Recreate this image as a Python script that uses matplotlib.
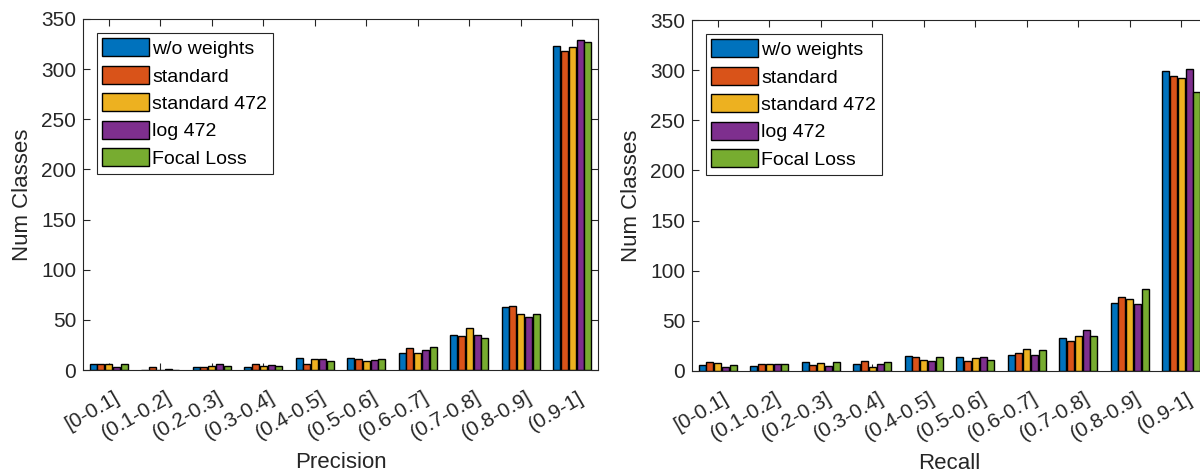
import numpy as np
import matplotlib
matplotlib.use('Agg')
import matplotlib.pyplot as plt
import matplotlib.transforms as mtransforms

plt.rcParams['font.family'] = ['Liberation Sans', 'DejaVu Sans']

bins = ['[0-0.1]', '(0.1-0.2]', '(0.2-0.3]', '(0.3-0.4]', '(0.4-0.5]',
        '(0.5-0.6]', '(0.6-0.7]', '(0.7-0.8]', '(0.8-0.9]', '(0.9-1]']
series = ['w/o weights', 'standard', 'standard 472', 'log 472', 'Focal Loss']
colors = ['#0072BD', '#D95319', '#EDB120', '#7E2F8E', '#77AC30']

# precision histogram
prec_wo = [6, 0, 3, 3, 12, 12, 17, 35, 63, 323]
prec_std = [6, 3, 3, 6, 6, 11, 22, 34, 64, 318]
prec_std472 = [6, 0, 4, 4, 11, 9, 17, 42, 56, 322]
prec_log472 = [3, 1, 6, 5, 11, 10, 20, 35, 53, 329]
prec_focal = [6, 0, 4, 4, 9, 11, 23, 32, 56, 327]

# recall histogram
rec_wo = [6, 5, 9, 7, 15, 14, 16, 33, 68, 299]
rec_std = [9, 7, 6, 10, 14, 10, 18, 30, 74, 294]
rec_std472 = [8, 7, 8, 4, 11, 13, 22, 35, 72, 292]
rec_log472 = [4, 7, 5, 7, 10, 14, 16, 41, 67, 301]
rec_focal = [6, 7, 9, 9, 14, 11, 21, 35, 82, 278]

fig = plt.figure(figsize=(12, 4.72), dpi=100)
ax1 = fig.add_axes([83/1200, 102/472, 515/1200, 351/472])
ax2 = fig.add_axes([692/1200, 101/472, 515/1200, 351/472])

def draw(ax, data, xlabel):
    x = np.arange(1, len(bins) + 1)
    step = 0.152
    for i, (vals, c, name) in enumerate(zip(data, colors, series)):
        ax.bar(x + (i - 2) * step, vals, width=0.135, color=c,
               edgecolor='black', linewidth=1.0, label=name, zorder=2)
    ax.set_xlim(0.5, 10.5)
    ax.set_ylim(0, 350)
    ax.set_yticks(range(0, 351, 50))
    ax.set_xticks(x)
    ax.set_xticklabels(bins, rotation=30, ha='right', rotation_mode='anchor')
    ax.tick_params(direction='in', top=True, right=True, labelsize=15,
                   colors='#262626', length=5, width=0.8, pad=5)
    # shift the rotated labels a bit right and down, like the matlab export
    off = mtransforms.ScaledTranslation(5/100, -11/100, fig.dpi_scale_trans)
    for lab in ax.get_xticklabels():
        lab.set_transform(lab.get_transform() + off)
    for s in ax.spines.values():
        s.set_color('#262626')
        s.set_linewidth(0.8)
    ax.set_ylabel('Num Classes', fontsize=16, color='#262626', labelpad=6)
    ax.set_xlabel(xlabel, fontsize=16, color='#262626', labelpad=6)
    leg = ax.legend(loc='upper left', fontsize=14, handlelength=2.4,
                    handleheight=1.05, handletextpad=0.15, labelspacing=0.4,
                    borderpad=0.3, borderaxespad=0.7, fancybox=False,
                    framealpha=1)
    leg.get_frame().set_edgecolor('#262626')
    leg.get_frame().set_linewidth(0.8)
    for p in leg.get_patches():
        p.set_edgecolor('black')

draw(ax1, [prec_wo, prec_std, prec_std472, prec_log472, prec_focal], 'Precision')
draw(ax2, [rec_wo, rec_std, rec_std472, rec_log472, rec_focal], 'Recall')

fig.savefig('out.png', dpi=100)
